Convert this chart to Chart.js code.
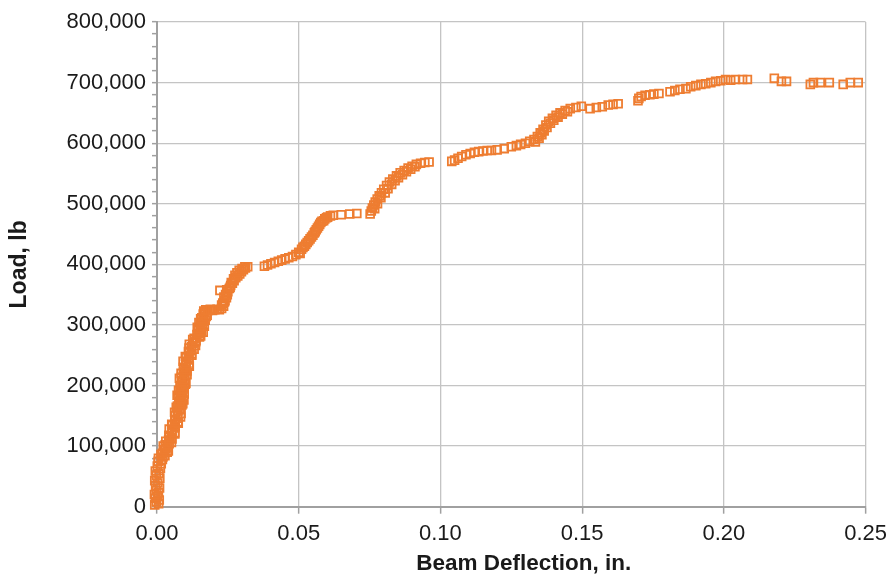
<!DOCTYPE html>
<html>
<head>
<meta charset="utf-8">
<script src="https://cdn.jsdelivr.net/npm/chart.js@4/dist/chart.umd.min.js"></script>
<style>
  html, body { margin: 0; padding: 0; background: #ffffff; }
  #wrap { width: 894px; height: 575px; position: relative; }
</style>
</head>
<body>
<div id="wrap"><canvas id="c" width="894" height="575"></canvas></div>
<script>
// Axis titles and tick settings
const xTitle = "Beam Deflection, in.";
const yTitle = "Load, lb";
const xTicks = [0.00, 0.05, 0.10, 0.15, 0.20, 0.25];
const yTicks = [0, 100000, 200000, 300000, 400000, 500000, 600000, 700000, 800000];

// Readings: [deflection (in.), load (lb)]
const stageInitial = [
  [-0.0008, 3000], [0.0006, 5000], [-0.0002, 8000], [0.0008, 11000], [-0.0006, 14000],
  [0.0002, 17000], [-0.0009, 20000], [0.0005, 23000], [-0.0003, 27000], [0.0009, 31000],
  [-0.0005, 35000], [0.0003, 39000], [-0.0008, 43000], [0.0010, 47000], [-0.0002, 51000],
  [0.0007, 55000], [-0.0006, 59000], [0.0012, 63000], [0.0001, 67000], [0.0015, 71000],
  [0.0004, 75000], [0.0019, 78000]
];
const stageElastic = [
  [0.0005, 80000], [0.0028, 84000], [0.0019, 88000], [0.0040, 92000], [0.0031, 96000],
  [0.0022, 100000], [0.0043, 104000], [0.0031, 108000], [0.0053, 112000], [0.0043, 116000],
  [0.0063, 120000], [0.0053, 124000], [0.0043, 128000], [0.0064, 132000], [0.0052, 136000],
  [0.0074, 140000], [0.0063, 144000], [0.0083, 148000], [0.0072, 152000], [0.0062, 156000],
  [0.0082, 160000], [0.0068, 164000], [0.0088, 168000], [0.0077, 172000], [0.0095, 176000],
  [0.0083, 180000], [0.0071, 184000], [0.0090, 188000], [0.0076, 192000], [0.0096, 196000],
  [0.0084, 200000], [0.0102, 204000], [0.0091, 208000], [0.0079, 212000], [0.0099, 216000],
  [0.0085, 220000], [0.0106, 224000], [0.0095, 228000], [0.0114, 232000], [0.0103, 236000],
  [0.0092, 240000], [0.0113, 244000], [0.0100, 248000], [0.0122, 252000], [0.0111, 256000],
  [0.0131, 260000], [0.0122, 264000], [0.0114, 268000], [0.0136, 272000], [0.0126, 276000],
  [0.0150, 280000], [0.0141, 284000], [0.0163, 288000], [0.0153, 292000], [0.0142, 296000],
  [0.0161, 300000], [0.0148, 304000], [0.0170, 308000], [0.0158, 312000], [0.0177, 316000],
  [0.0166, 320000]
];
const stageElasticFill = [
  [0.0021, 82000], [0.0014, 86000], [0.0036, 90000], [0.0027, 94000], [0.0037, 98000],
  [0.0029, 102000], [0.0051, 106000], [0.0041, 110000], [0.0050, 114000], [0.0042, 118000],
  [0.0063, 122000], [0.0053, 126000], [0.0062, 130000], [0.0054, 134000], [0.0075, 138000],
  [0.0064, 142000], [0.0073, 146000], [0.0064, 150000], [0.0085, 154000], [0.0074, 158000],
  [0.0082, 162000], [0.0072, 166000], [0.0091, 170000], [0.0080, 174000], [0.0087, 178000],
  [0.0077, 182000], [0.0096, 186000], [0.0084, 190000], [0.0091, 194000], [0.0081, 198000],
  [0.0100, 202000], [0.0088, 206000], [0.0096, 210000], [0.0086, 214000], [0.0106, 218000],
  [0.0094, 222000], [0.0102, 226000], [0.0093, 230000], [0.0113, 234000], [0.0102, 238000],
  [0.0111, 242000], [0.0102, 246000], [0.0123, 250000], [0.0112, 254000], [0.0121, 258000],
  [0.0113, 262000], [0.0136, 266000], [0.0127, 270000], [0.0138, 274000], [0.0131, 278000],
  [0.0154, 282000], [0.0146, 286000], [0.0156, 290000], [0.0147, 294000], [0.0167, 298000],
  [0.0155, 302000], [0.0164, 306000], [0.0154, 310000], [0.0174, 314000], [0.0163, 318000]
];
const stagePlateau1 = [
  [0.0165, 323000], [0.0172, 325000], [0.0180, 324000], [0.0188, 326000], [0.0196, 324000],
  [0.0204, 325000], [0.0212, 326000], [0.0220, 325000], [0.0228, 327000], [0.0222, 357000],
  [0.0235, 331000], [0.0232, 336000], [0.0240, 340000], [0.0245, 345000], [0.0242, 350000],
  [0.0250, 355000], [0.0255, 360000], [0.0260, 365000], [0.0266, 369000], [0.0272, 373000],
  [0.0278, 378000], [0.0285, 381000], [0.0292, 384000], [0.0298, 388000], [0.0305, 391000],
  [0.0312, 394000], [0.0320, 396000],
  [0.0228, 333000], [0.0238, 338000], [0.0236, 346000], [0.0248, 350000], [0.0246, 358000],
  [0.0258, 362000], [0.0262, 370000], [0.0270, 376000], [0.0275, 382000], [0.0282, 386000],
  [0.0290, 390000], [0.0300, 393000], [0.0310, 396000]
];
const stageSecond = [
  [0.0379, 397000], [0.0390, 399000], [0.0402, 401000], [0.0415, 403000], [0.0428, 405000],
  [0.0440, 407000], [0.0452, 409000], [0.0465, 411000], [0.0478, 413000], [0.0490, 416000],
  [0.0500, 420000], [0.0510, 425000], [0.0520, 430000], [0.0530, 436000], [0.0540, 442000],
  [0.0550, 448000], [0.0558, 454000], [0.0566, 460000], [0.0574, 466000], [0.0582, 471000],
  [0.0592, 475000], [0.0602, 478000], [0.0612, 480000], [0.0622, 481000], [0.0650, 482000],
  [0.0680, 483000], [0.0705, 484000],
  [0.0505, 418000], [0.0515, 428000], [0.0525, 433000], [0.0535, 439000], [0.0545, 445000],
  [0.0555, 452000], [0.0562, 457000], [0.0570, 463000], [0.0578, 469000], [0.0588, 472000],
  [0.0598, 477000]
];
const stageThird = [
  [0.0752, 483000], [0.0756, 488000], [0.0760, 493000], [0.0765, 498000], [0.0770, 503000],
  [0.0777, 508000], [0.0784, 513000], [0.0792, 518000], [0.0800, 524000], [0.0810, 530000],
  [0.0820, 536000], [0.0832, 541000], [0.0845, 546000], [0.0858, 551000], [0.0872, 555000],
  [0.0886, 559000], [0.0900, 562000], [0.0915, 565000], [0.0930, 567000], [0.0945, 568000],
  [0.0960, 569000],
  [0.0768, 492000], [0.0778, 500000], [0.0790, 510000], [0.0805, 518000], [0.0815, 525000],
  [0.0828, 532000], [0.0840, 538000], [0.0852, 543000], [0.0866, 548000], [0.0880, 553000],
  [0.0895, 557000], [0.0910, 561000]
];
const stageFourth = [
  [0.1040, 570000], [0.1050, 572000], [0.1062, 575000], [0.1075, 578000], [0.1090, 581000],
  [0.1105, 583000], [0.1120, 585000], [0.1135, 586000], [0.1150, 587000], [0.1165, 588000],
  [0.1180, 588000], [0.1200, 589000], [0.1225, 591000], [0.1250, 594000], [0.1268, 596000],
  [0.1283, 598000], [0.1300, 600000], [0.1315, 603000], [0.1330, 606000], [0.1342, 611000],
  [0.1352, 617000], [0.1362, 623000], [0.1372, 630000], [0.1382, 636000], [0.1395, 641000],
  [0.1408, 646000], [0.1422, 650000], [0.1440, 654000], [0.1458, 657000], [0.1478, 659000],
  [0.1497, 661000],
  [0.1335, 602000], [0.1348, 608000], [0.1358, 614000], [0.1366, 620000], [0.1376, 626000],
  [0.1388, 633000], [0.1400, 638000], [0.1415, 643000], [0.1430, 648000], [0.1448, 652000]
];
const stageFinal = [
  [0.1528, 657000], [0.1550, 659000], [0.1571, 660000], [0.1592, 663000], [0.1609, 664000],
  [0.1627, 665000], [0.1697, 670000], [0.1700, 674000], [0.1708, 677000], [0.1722, 679000],
  [0.1739, 680000], [0.1753, 681000], [0.1771, 682000], [0.1810, 685000], [0.1827, 687000],
  [0.1845, 689000], [0.1866, 690000], [0.1883, 693000], [0.1901, 695000], [0.1919, 697000],
  [0.1936, 698000], [0.1954, 700000], [0.1971, 702000], [0.1989, 703000], [0.2006, 705000],
  [0.2024, 704000], [0.2041, 705000], [0.2066, 705000], [0.2083, 705000], [0.2178, 707000],
  [0.2203, 702000], [0.2221, 702000], [0.2305, 697000], [0.2316, 700000], [0.2340, 700000],
  [0.2372, 700000], [0.2421, 697000], [0.2446, 700000], [0.2474, 700000]
];

const readings = [].concat(stageInitial, stageElastic, stageElasticFill, stagePlateau1,
                           stageSecond, stageThird, stageFourth, stageFinal)
                   .map(p => ({ x: p[0], y: p[1] }));

const FONT = "'Liberation Sans', Arial, Helvetica, sans-serif";
const ORANGE = '#EE7D31';
const GRID = '#c4c4c4';
const AXIS = '#a0a0a0';

new Chart(document.getElementById('c'), {
  type: 'scatter',
  data: {
    datasets: [{
      label: 'Load',
      data: readings,
      pointStyle: 'rect',
      pointRadius: 5.5,
      pointHoverRadius: 5.5,
      borderColor: ORANGE,
      backgroundColor: 'rgba(0,0,0,0)',
      borderWidth: 1.8,
      showLine: false,
      clip: false
    }]
  },
  options: {
    responsive: false,
    animation: false,
    events: [],
    layout: { padding: { left: 0, right: 26, top: 22, bottom: 0 } },
    plugins: { legend: { display: false }, tooltip: { enabled: false } },
    scales: {
      x: {
        type: 'linear',
        min: xTicks[0],
        max: xTicks[xTicks.length - 1],
        afterBuildTicks: s => { s.ticks = xTicks.map(v => ({ value: v })); },
        afterFit: s => { s.height = 68.3; },
        ticks: {
          color: '#1a1a1a',
          font: { family: FONT, size: 22 },
          padding: 7,
          maxRotation: 0,
          autoSkip: false,
          callback: v => Number(v).toFixed(2)
        },
        grid: { color: GRID, lineWidth: 1.3, tickLength: 7, tickColor: AXIS, tickWidth: 1.5 },
        border: { color: AXIS, width: 2 },
        title: {
          display: true,
          text: '    ' + xTitle,
          color: '#1a1a1a',
          font: { family: FONT, size: 22.5, weight: 'bold', lineHeight: 1 },
          padding: { top: 0, bottom: 0 }
        }
      },
      y: {
        type: 'linear',
        min: 0,
        max: 800000,
        afterBuildTicks: s => {
          const t = [];
          for (let i = 0; i < yTicks.length - 1; i++) {
            for (let k = 0; k < 5; k++) t.push({ value: yTicks[i] + k * (yTicks[i + 1] - yTicks[i]) / 5 });
          }
          t.push({ value: yTicks[yTicks.length - 1] });
          s.ticks = t;
        },
        afterFit: s => { s.width = 157; },
        ticks: {
          color: '#1a1a1a',
          font: { family: FONT, size: 22 },
          padding: 6,
          autoSkip: false,
          callback: v => (yTicks.includes(v) ? Number(v).toLocaleString('en-US') : '')
        },
        grid: {
          color: c => (c.tick && yTicks.includes(c.tick.value) ? GRID : 'rgba(0,0,0,0)'),
          lineWidth: 1.3,
          tickLength: 5,
          tickColor: AXIS,
          tickWidth: 1.5
        },
        border: { color: AXIS, width: 2 },
        title: {
          display: true,
          text: yTitle,
          color: '#1a1a1a',
          font: { family: FONT, size: 23, weight: 'bold', lineHeight: 1 },
          padding: { top: 8.5, bottom: 0 }
        }
      }
    }
  }
});
</script>
</body>
</html>
